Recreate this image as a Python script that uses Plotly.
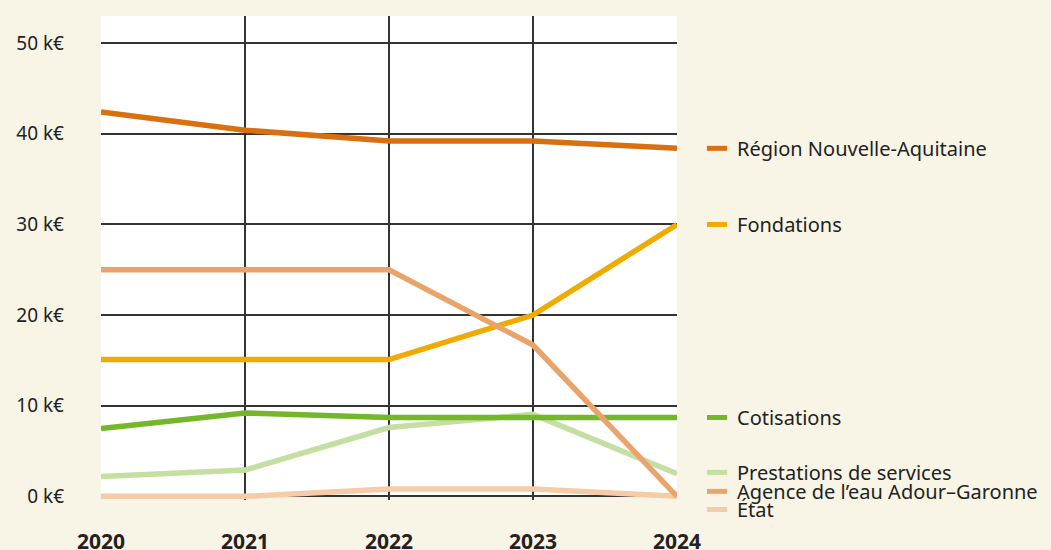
import plotly.graph_objects as go

years = [2020, 2021, 2022, 2023, 2024]

region = [42.4, 40.4, 39.2, 39.2, 38.4]
fondations = [15.1, 15.1, 15.1, 20.0, 30.0]
agence = [25.0, 25.0, 25.0, 16.7, 0.0]
cotisations = [7.5, 9.2, 8.7, 8.7, 8.7]
prestations = [2.2, 2.9, 7.6, 9.05, 2.5]
etat = [0.0, 0.0, 0.8, 0.8, 0.0]

y_tickvals = [0, 10, 20, 30, 40, 50]
y_ticktext = ["0 k€", "10 k€", "20 k€", "30 k€", "40 k€", "50 k€"]

# (name, values, colour, label position in data units)
series = [
    ("État", etat, "#f5cba8", -1.45),
    ("Prestations de services", prestations, "#c5dfa2", 2.65),
    ("Cotisations", cotisations, "#74b72b", 8.7),
    ("Fondations", fondations, "#f0ab00", 30.0),
    ("Agence de l’eau Adour–Garonne", agence, "#e9a46c", 0.55),
    ("Région Nouvelle-Aquitaine", region, "#d8700f", 38.4),
]

PAPER = "#f8f5e6"
FONT = "Noto Sans"
TXT = "#222222"
YMIN, YMAX = -0.4, 53


def to_paper(v):
    return (v - YMIN) / (YMAX - YMIN)


fig = go.Figure()
shapes = [
    dict(type="rect", xref="paper", yref="y", x0=0, x1=1, y0=0, y1=YMAX,
         fillcolor="white", line=dict(width=0), layer="below")
]
annotations = []
for name, vals, color, ly in series:
    fig.add_trace(go.Scatter(x=years, y=vals, mode="lines", name=name,
                             line=dict(color=color, width=5.5), showlegend=False,
                             hoverinfo="x+y+name"))
    py = to_paper(ly)
    shapes.append(dict(type="line", xref="paper", yref="paper",
                       x0=1.052, x1=1.087, y0=py, y1=py,
                       line=dict(color=color, width=5), layer="above"))
    annotations.append(dict(xref="paper", yref="paper", x=1.0, y=py, xshift=58,
                            text=name, showarrow=False, xanchor="left",
                            yanchor="middle",
                            font=dict(family=FONT, size=20, color=TXT)))

fig.update_layout(
    width=1051, height=550,
    paper_bgcolor=PAPER, plot_bgcolor=PAPER,
    margin=dict(l=101, r=374, t=16, b=50),
    shapes=shapes, annotations=annotations,
    showlegend=False,
)
fig.update_xaxes(range=[2020, 2024], tickvals=years, ticktext=[str(y) for y in years],
                 showgrid=True, gridcolor="#333333", gridwidth=1.5,
                 zeroline=False, showline=False, ticks="", automargin=False,
                 ticklabelstandoff=27,
                 tickfont=dict(family=FONT, size=21, color=TXT, weight="bold"))
fig.update_yaxes(range=[YMIN, YMAX], tickvals=y_tickvals, ticktext=y_ticktext,
                 showgrid=True, gridcolor="#333333", gridwidth=1.5,
                 zeroline=False, showline=False, ticks="", automargin=False,
                 ticklabelstandoff=36,
                 tickfont=dict(family=FONT, size=19, color=TXT))

fig.write_html(
    "out.html",
    config={"displayModeBar": False},
    post_script="document.body.style.margin='0';document.body.style.background='%s';" % PAPER,
)
